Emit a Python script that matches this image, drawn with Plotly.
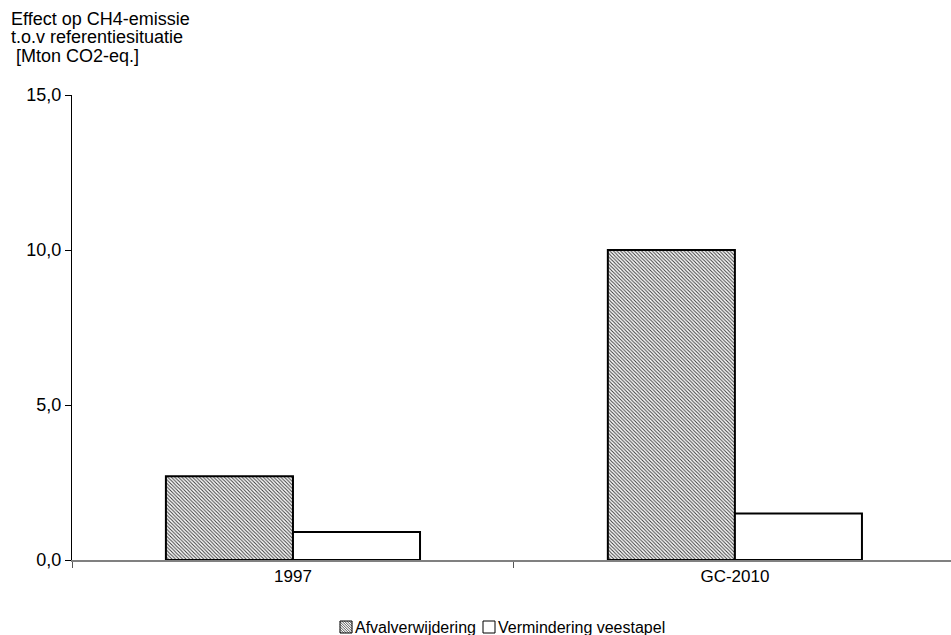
import plotly.graph_objects as go

categories = ["1997", "GC-2010"]
afvalverwijdering = [2.7, 10.0]
vermindering_veestapel = [0.9, 1.5]
y_ticks = [0, 5, 10, 15]
title_lines = ["Effect op CH4-emissie", "t.o.v referentiesituatie", " [Mton CO2-eq.]"]
series_names = ["Afvalverwijdering", "Vermindering veestapel"]

FONT = "Liberation Sans, Arial, sans-serif"
FS = 18
LEGEND_FS = 16

W, H = 951, 635
ML, MR, MT, MB = 72, 0, 95, 75
PLOT_W = W - ML - MR
PLOT_H = H - MT - MB

hatch = dict(shape="\\", fgcolor="#3a3a3a", bgcolor="white",
             size=2.5, solidity=0.4, fillmode="replace")

fig = go.Figure()
fig.add_trace(go.Bar(
    name=series_names[0],
    x=categories,
    y=afvalverwijdering,
    marker=dict(color="white", line=dict(color="black", width=2), pattern=hatch),
))
fig.add_trace(go.Bar(
    name=series_names[1],
    x=categories,
    y=vermindering_veestapel,
    marker=dict(color="white", line=dict(color="black", width=2)),
))

fig.update_layout(
    width=W,
    height=H,
    margin=dict(l=ML, r=MR, t=MT, b=MB),
    paper_bgcolor="white",
    plot_bgcolor="white",
    barmode="group",
    bargap=0.425,
    bargroupgap=0,
    separators=",.",
    font=dict(family=FONT, size=FS, color="black"),
    showlegend=False,
    xaxis=dict(
        type="category",
        range=[-0.5, 1.489],
        automargin=False,
        showline=True,
        linecolor="#808080",
        linewidth=2,
        ticks="outside",
        tickson="boundaries",
        ticklen=6,
        tickcolor="#555555",
        showgrid=False,
        tickfont=dict(size=17),
    ),
    yaxis=dict(
        range=[0, 15],
        automargin=False,
        tickvals=y_ticks,
        tickformat=".1f",
        showline=True,
        linecolor="black",
        linewidth=1,
        ticks="outside",
        ticklen=6,
        tickcolor="black",
        showgrid=False,
        zeroline=False,
        tickfont=dict(size=FS),
    ),
)


def px_x(px):
    return (px - ML) / PLOT_W


def px_y(py):
    return (H - MB - py) / PLOT_H


# Axis caption, one annotation per line for tight line spacing
for i, line in enumerate(title_lines):
    baseline = 27 + i * 18.5
    fig.add_annotation(
        text=line,
        xref="paper", yref="paper",
        x=px_x(9), y=px_y(baseline),
        xanchor="left", yanchor="bottom",
        yshift=-4,
        align="left",
        showarrow=False,
        font=dict(family=FONT, size=FS, color="black"),
    )

# Compact legend below the axis: swatch + label for each series
legend_cy = 627
sq = 12
entries = [(340, series_names[0], True), (483, series_names[1], False)]
for sx, label, hatched in entries:
    top, bottom = legend_cy - sq / 2, legend_cy + sq / 2
    if hatched:
        c = -sq + 1.25
        while c < sq:
            if c >= 0:
                x0, y0, x1, y1 = sx + c, top, sx + sq, bottom - c
            else:
                x0, y0, x1, y1 = sx, top - c, sx + sq + c, bottom
            fig.add_shape(type="line", xref="paper", yref="paper",
                          x0=px_x(x0), y0=px_y(y0), x1=px_x(x1), y1=px_y(y1),
                          line=dict(color="#555555", width=1))
            c += 2.5
    fig.add_shape(type="rect", xref="paper", yref="paper",
                  x0=px_x(sx), y0=px_y(bottom), x1=px_x(sx + sq), y1=px_y(top),
                  line=dict(color="black", width=1), fillcolor="rgba(0,0,0,0)")
    fig.add_annotation(
        text=label,
        xref="paper", yref="paper",
        x=px_x(sx + sq + 1), y=px_y(legend_cy),
        xanchor="left", yanchor="middle",
        showarrow=False,
        font=dict(family=FONT, size=LEGEND_FS, color="black"),
    )

fig.write_html("out.html")
